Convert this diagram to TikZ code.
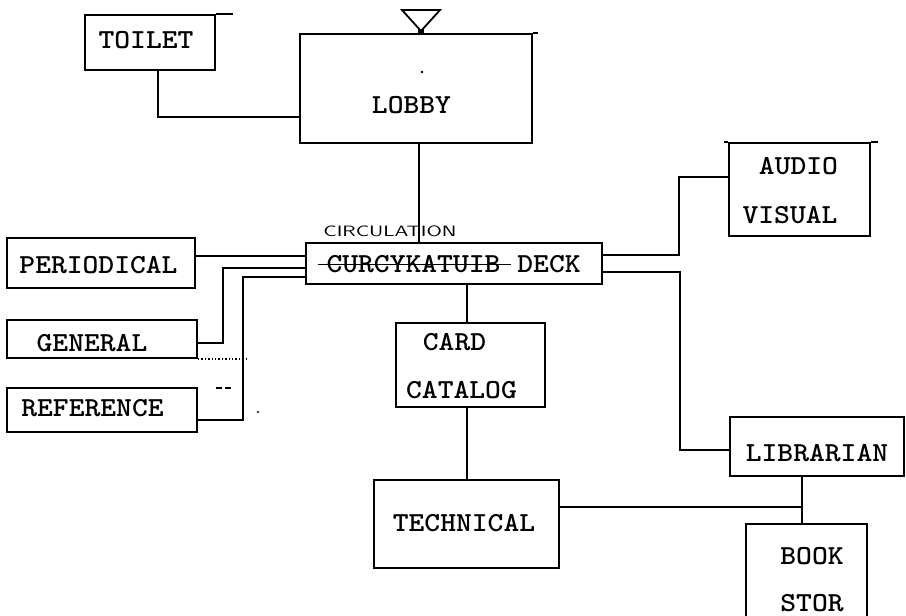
\documentclass[tikz,border=0pt]{standalone}
\usepackage{graphicx}
\newcommand\tw[1]{\scalebox{1.095}[1]{\ttfamily\bfseries\fontsize{27.5}{30}\selectfont #1}}
\newcommand\hand[1]{\scalebox{1.42}[1]{\sffamily\fontsize{15}{15}\selectfont #1}}
\begin{document}
\begin{tikzpicture}[x=1pt,y=-1pt,line width=1.8pt,
  box/.style={draw,rectangle,inner sep=0pt},
  lbl/.style={inner sep=0pt,anchor=center},
  strayline/.style={line width=1.4pt}]
\useasboundingbox (0,0) rectangle (906,616);
\fill[white] (0,0) rectangle (906,616);

% boxes
\node[box,minimum width=130pt,minimum height=55pt]  (toilet)     at (150,42.5) {};
\node[box,minimum width=232pt,minimum height=109pt] (lobby)      at (416,88.5) {};
\node[box,minimum width=188pt,minimum height=50pt]  (periodical) at (101,263) {};
\node[box,minimum width=190pt,minimum height=38pt]  (general)    at (102,339) {};
\node[box,minimum width=190pt,minimum height=44pt]  (reference)  at (102,410) {};
\node[box,minimum width=296pt,minimum height=41pt]  (deck)       at (454,263.5) {};
\node[box,minimum width=141pt,minimum height=93pt]  (audio)      at (799.5,189.5) {};
\node[box,minimum width=149pt,minimum height=84pt]  (card)       at (470.5,365) {};
\node[box,minimum width=174pt,minimum height=59pt]  (librarian)  at (817,446.5) {};
\node[box,minimum width=185pt,minimum height=88pt]  (technical)  at (466.5,524) {};
\node[box,minimum width=121pt,minimum height=102pt] (bookstor)   at (806.5,575) {};

% texts
\node[lbl] (t-toilet)  at (146,40)    {\tw{TOILET}};
\node[lbl] (t-lobby)   at (411.5,105) {\tw{LOBBY}};
\node[lbl] (t-period)  at (98.5,265)  {\tw{PERIODICAL}};
\node[lbl] (t-general) at (92,343.5)  {\tw{GENERAL}};
\node[lbl] (t-ref)     at (92.5,408.5){\tw{REFERENCE}};
\node[lbl] (t-circ)    at (390,231)   {\hand{CIRCULATION}};
\node[lbl] (t-strike)  at (413.5,264.5){\tw{CURCYKATUIB}};
\node[lbl] (t-deck)    at (549,264.5) {\tw{DECK}};
\node[lbl] (t-audio1)  at (798.5,166.5){\tw{AUDIO}};
\node[lbl] (t-audio2)  at (790,215)   {\tw{VISUAL}};
\node[lbl] (t-card1)   at (454.5,342.5){\tw{CARD}};
\node[lbl] (t-card2)   at (461.5,390) {\tw{CATALOG}};
\node[lbl] (t-lib)     at (817,453)   {\tw{LIBRARIAN}};
\node[lbl] (t-tech)    at (464,523)   {\tw{TECHNICAL}};
\node[lbl] (t-book1)   at (812,556)   {\tw{BOOK}};
\node[lbl] (t-book2)   at (812,603)   {\tw{STOR}};

% strike-through
\draw[line width=1.8pt] ([xshift=-8pt]t-strike.west) -- ([xshift=10pt]t-strike.east);

% entrance symbol
\draw (402,10) -- (440,10) -- (421,31) -- cycle;
\fill (418,29) rectangle (424,34);

% top edge overshoots
\draw (toilet.north east) -- ++(17,0);
\draw (lobby.north east) -- ++(5,0);
\draw (audio.north west) -- ++(-4,0);
\draw (audio.north east) -- ++(7,0);

% connectors
\coordinate (j) at (802,507);
\draw ([xshift=8pt]toilet.south) |- ([yshift=-28.5pt]lobby.west);
\draw ([xshift=3pt]lobby.south) -- ([xshift=-35pt]deck.north);
\draw ([yshift=7pt]periodical.east) -- ([yshift=7.5pt]deck.west);
\draw ([yshift=-4pt]general.east) -- ++(25,0) |- ([yshift=-4.5pt]deck.west);
\draw ([yshift=-10pt]reference.east) -- ++(45,0) |- ([yshift=-13.5pt]deck.west);
\draw ([yshift=8.5pt]deck.east) -- ++(76,0) |- ([yshift=12.5pt]audio.west);
\draw ([yshift=-8.5pt]deck.east) -- ++(77,0) |- ([yshift=-3.5pt]librarian.west);
\draw ([xshift=13pt]deck.south) -- ([xshift=-3.5pt]card.north);
\draw ([xshift=-3.5pt]card.south) -- ([xshift=0.5pt]technical.north);
\draw ([xshift=-15pt]librarian.south) -- ([xshift=-4.5pt]bookstor.north);
\draw ([yshift=17pt]technical.east) -- (j);

% stray marks
\draw[strayline,dotted] (general.south east) -- ++(50,0);
\draw[strayline] (216,388) -- (222,388) (225,388) -- (231,388);
\fill (258,412) circle (1.2pt);
\fill (422,72) circle (1.3pt);
\end{tikzpicture}
\end{document}
